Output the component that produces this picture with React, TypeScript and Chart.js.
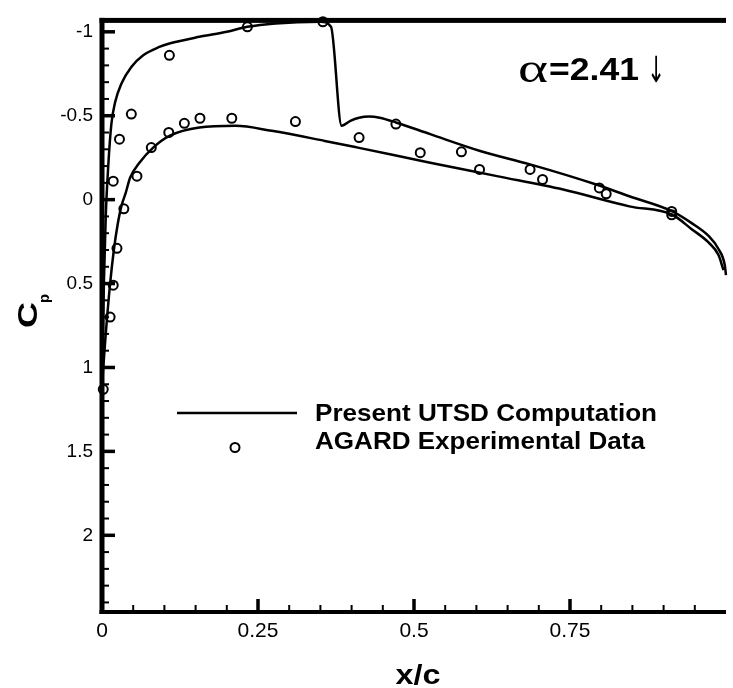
import React, { useEffect, useRef } from "react";
import { Chart, registerables } from "chart.js";

Chart.register(...registerables);

// ---- Data ----
const upperX = [0, 0.001, 0.003, 0.006, 0.01, 0.015, 0.021, 0.031, 0.047, 0.066, 0.092, 0.108, 0.156, 0.2, 0.233, 0.278, 0.35, 0.367, 0.384, 0.398, 0.412, 0.428, 0.445, 0.471, 0.526, 0.606, 0.686, 0.792, 0.845, 0.914, 0.945, 0.972, 0.988, 0.998, 1.0];
const upperCp = [1.12, 0.9, 0.5, 0.1, -0.2, -0.45, -0.58, -0.69, -0.79, -0.86, -0.91, -0.93, -0.97, -1.0, -1.03, -1.05, -1.06, -1.03, -0.44, -0.47, -0.488, -0.495, -0.488, -0.46, -0.39, -0.29, -0.21, -0.09, -0.02, 0.07, 0.14, 0.216, 0.294, 0.39, 0.45];

const lowerX = [0, 0.002, 0.006, 0.013, 0.019, 0.025, 0.031, 0.038, 0.045, 0.06, 0.082, 0.108, 0.156, 0.214, 0.272, 0.357, 0.41, 0.526, 0.633, 0.739, 0.845, 0.914, 0.945, 0.972, 0.988, 0.996];
const lowerCp = [1.12, 1.0, 0.8, 0.5, 0.3, 0.15, 0.04, -0.04, -0.13, -0.22, -0.31, -0.38, -0.43, -0.44, -0.41, -0.35, -0.31, -0.22, -0.14, -0.06, 0.04, 0.09, 0.176, 0.255, 0.33, 0.42];

const expX = [0.002, 0.013, 0.018, 0.024, 0.035, 0.018, 0.028, 0.047, 0.056, 0.079, 0.107, 0.108, 0.132, 0.157, 0.208, 0.233, 0.31, 0.354, 0.412, 0.471, 0.51, 0.576, 0.605, 0.686, 0.706, 0.797, 0.808, 0.913, 0.913];
const expCp = [1.13, 0.7, 0.51, 0.29, 0.055, -0.11, -0.36, -0.51, -0.14, -0.31, -0.4, -0.86, -0.455, -0.485, -0.485, -1.03, -0.465, -1.06, -0.37, -0.45, -0.28, -0.285, -0.18, -0.18, -0.12, -0.07, -0.035, 0.07, 0.09];

const xTickValues = [0, 0.25, 0.5, 0.75];
const xTickLabels = ["0", "0.25", "0.5", "0.75"];
const yTickValues = [-1, -0.5, 0, 0.5, 1, 1.5, 2];
const yTickLabels = ["-1", "-0.5", "0", "0.5", "1", "1.5", "2"];

const seriesNames = ["Present UTSD Computation", "AGARD Experimental Data"];
const xTitle = "x/c";
const yTitleMain = "C";
const yTitleSub = "p";
const alphaParts = ["\u03B1", "=2.41", "\u2193"];

const FONT = "'Liberation Sans', Arial, sans-serif";

function fitText(ctx: CanvasRenderingContext2D, text: string, x: number, y: number, targetW: number, font: string, align: "left" | "center" = "left") {
  ctx.save();
  ctx.font = font;
  ctx.textBaseline = "alphabetic";
  ctx.textAlign = "left";
  const w = ctx.measureText(text).width || 1;
  const s = targetW / w;
  const x0 = align === "center" ? x - targetW / 2 : x;
  ctx.translate(x0, y);
  ctx.scale(s, 1);
  ctx.fillStyle = "#000";
  ctx.fillText(text, 0, 0);
  ctx.restore();
}

const decorPlugin = {
  id: "decor",
  afterDraw(chart: any) {
    const ctx: CanvasRenderingContext2D = chart.ctx;
    const { left, right, top, bottom } = chart.chartArea;
    const xs = chart.scales.x;
    const ys = chart.scales.y;
    ctx.save();
    ctx.fillStyle = "#000";
    // spines
    ctx.fillRect(left - 2.5, top - 2.5, 5, bottom - top + 4.5);
    ctx.fillRect(left - 2.5, bottom - 2, right - left + 2.5, 4);
    ctx.fillRect(left - 2.5, top - 2.5, right - left + 2.5, 5);
    // y ticks (inside)
    for (let k = -10; k <= 24; k++) {
      const py = ys.getPixelForValue(k / 10);
      const major = k % 5 === 0;
      const len = major ? 13 : 7;
      const w = major ? 3.5 : 2;
      ctx.fillRect(left, py - w / 2, len, w);
    }
    // x ticks (inside)
    for (let k = 1; k <= 19; k++) {
      const px = xs.getPixelForValue(k * 0.05);
      const major = k % 5 === 0;
      const len = major ? 13 : 7;
      const w = major ? 3.5 : 2;
      ctx.fillRect(px - w / 2, bottom - len, w, len);
    }
    // legend
    ctx.strokeStyle = "#000";
    ctx.lineWidth = 2.5;
    ctx.beginPath();
    ctx.moveTo(177, 413);
    ctx.lineTo(297, 413);
    ctx.stroke();
    ctx.lineWidth = 2;
    ctx.beginPath();
    ctx.arc(235, 447.5, 4.5, 0, Math.PI * 2);
    ctx.stroke();
    fitText(ctx, seriesNames[0], 315, 421, 342, `bold 24px ${FONT}`);
    fitText(ctx, seriesNames[1], 315, 449, 330, `bold 24px ${FONT}`);
    // alpha annotation
    fitText(ctx, alphaParts[0], 518, 82, 30, `42px 'Liberation Serif', serif`);
    fitText(ctx, alphaParts[1], 549, 80, 90, `bold 32px ${FONT}`);
    fitText(ctx, alphaParts[2], 647, 82, 18, `36px 'DejaVu Sans', sans-serif`);
    // x title
    fitText(ctx, xTitle, 418, 684, 45, `bold 28px ${FONT}`, "center");
    // y title (rotated)
    ctx.save();
    ctx.translate(37, 328);
    ctx.rotate(-Math.PI / 2);
    fitText(ctx, yTitleMain, 0, 0, 26, `bold 28px ${FONT}`);
    fitText(ctx, yTitleSub, 25, 11.5, 9, `bold 14px ${FONT}`);
    ctx.restore();
    ctx.restore();
  },
};

function findLabel(v: number, values: number[], labels: string[]) {
  for (let i = 0; i < values.length; i++) {
    if (Math.abs(values[i] - v) < 1e-6) return labels[i];
  }
  return "";
}

export default function App() {
  const ref = useRef<HTMLCanvasElement | null>(null);
  useEffect(() => {
    document.body.style.margin = "0";
    const canvas = ref.current;
    if (!canvas) return;
    const upper = upperX.map((x, i) => ({ x, y: upperCp[i] }));
    const lower = lowerX.map((x, i) => ({ x, y: lowerCp[i] }));
    const exp = expX.map((x, i) => ({ x, y: expCp[i] }));
    const chart = new Chart(canvas, {
      type: "scatter",
      data: {
        datasets: [
          {
            label: seriesNames[0],
            data: upper,
            showLine: true,
            borderColor: "#000",
            borderWidth: 2.5,
            pointRadius: 0,
            cubicInterpolationMode: "monotone",
            clip: false,
          } as any,
          {
            label: seriesNames[0] + " (lower)",
            data: lower,
            showLine: true,
            borderColor: "#000",
            borderWidth: 2.5,
            pointRadius: 0,
            cubicInterpolationMode: "monotone",
            clip: false,
          } as any,
          {
            label: seriesNames[1],
            data: exp,
            showLine: false,
            borderColor: "#000",
            backgroundColor: "rgba(0,0,0,0)",
            pointBackgroundColor: "rgba(0,0,0,0)",
            pointBorderColor: "#000",
            pointBorderWidth: 2,
            pointRadius: 4.5,
            clip: false,
          } as any,
        ],
      },
      options: {
        responsive: true,
        maintainAspectRatio: false,
        animation: false,
        layout: { padding: { top: 12, left: 0, right: 0, bottom: 0 } },
        plugins: { legend: { display: false }, tooltip: { enabled: false } },
        scales: {
          x: {
            type: "linear",
            min: 0,
            max: 1,
            afterFit: (s: any) => {
              s.height = 76;
            },
            grid: { display: false, drawTicks: false },
            border: { display: false },
            ticks: {
              stepSize: 0.25,
              autoSkip: false,
              maxRotation: 0,
              includeBounds: false,
              padding: 7,
              color: "#000",
              font: { family: FONT, size: 21 },
              callback: (v: any) => findLabel(Number(v), xTickValues, xTickLabels),
            },
          },
          y: {
            type: "linear",
            reverse: true,
            min: -1.068,
            max: 2.457,
            afterFit: (s: any) => {
              s.width = 102;
            },
            grid: { display: false, drawTicks: false },
            border: { display: false },
            ticks: {
              stepSize: 0.5,
              autoSkip: false,
              includeBounds: false,
              padding: 9,
              color: "#000",
              font: { family: FONT, size: 19 },
              callback: (v: any) => findLabel(Number(v), yTickValues, yTickLabels),
            },
          },
        },
      } as any,
      plugins: [decorPlugin],
    });
    return () => chart.destroy();
  }, []);
  return (
    <div style={{ position: "fixed", left: 0, top: 0, width: 733, height: 688, background: "#fff" }}>
      <canvas ref={ref} />
    </div>
  );
}
